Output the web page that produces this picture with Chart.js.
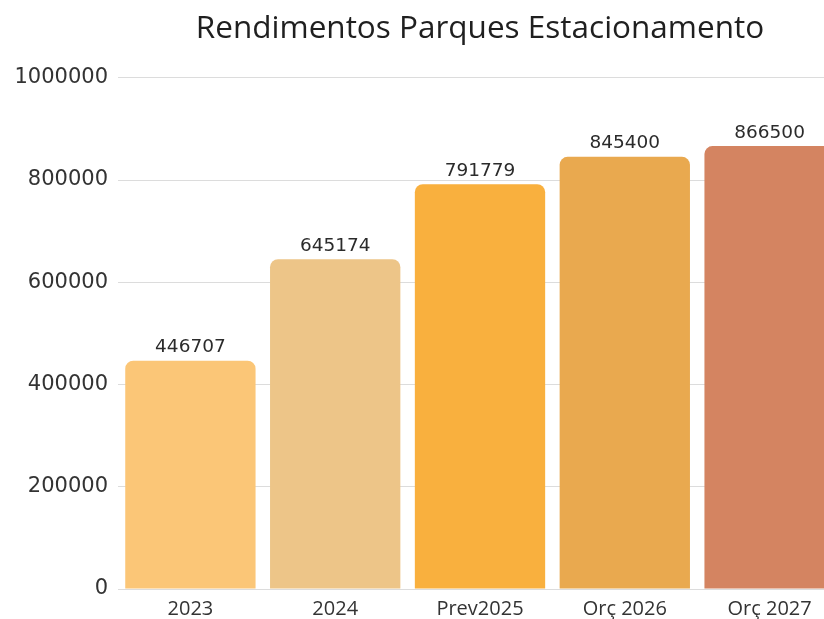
<!DOCTYPE html>
<html>
<head>
<meta charset="utf-8">
<script src="https://cdn.jsdelivr.net/npm/chart.js@4"></script>
<style>
  html, body { margin: 0; padding: 0; background: #fff; overflow: hidden; }
  #wrap { width: 842px; height: 619px; position: relative; }
</style>
</head>
<body>
<div id="wrap"><canvas id="chart"></canvas></div>
<script>
const categories = ['2023', '2024', 'Prev2025', 'Orç 2026', 'Orç 2027'];
const rendimentos = [446707, 645174, 791779, 845400, 866500];
const barColors = ['#fbc677', '#edc588', '#f9b03e', '#e9a94f', '#d48461'];
const yTicks = [0, 200000, 400000, 600000, 800000, 1000000];

// values above each bar
const valueLabels = {
    id: 'valueLabels',
    afterDatasetsDraw(chart) {
        const ctx = chart.ctx;
        const meta = chart.getDatasetMeta(0);
        ctx.save();
        ctx.font = '18.5px "DejaVu Sans"';
        ctx.fillStyle = '#2b2b2b';
        ctx.textAlign = 'center';
        ctx.textBaseline = 'bottom';
        meta.data.forEach((bar, i) => {
            ctx.fillText(String(rendimentos[i]), bar.x, bar.y - 4);
        });
        ctx.restore();
    }
};

new Chart('chart', {
    type: 'bar',
    data: {
        labels: categories,
        datasets: [{
            data: rendimentos,
            backgroundColor: barColors,
            borderRadius: 8,
            categoryPercentage: 1,
            barPercentage: 0.9
        }]
    },
    options: {
        responsive: true,
        maintainAspectRatio: false,
        animation: false,
        layout: { padding: 0 },
        plugins: {
            legend: { display: false },
            tooltip: { enabled: false },
            title: {
                display: true,
                fullSize: false,
                text: 'Rendimentos Parques Estacionamento',
                color: '#1f1f1f',
                font: { family: 'Open Sans', size: 31.5, weight: 'normal' },
                padding: { top: 10, bottom: 30 }
            }
        },
        scales: {
            x: {
                afterFit: s => { s.height = 30; },
                grid: { display: false },
                border: { display: false },
                ticks: {
                    color: '#333',
                    font: { family: 'Open Sans', size: 20 },
                    padding: 0,
                    maxRotation: 0
                }
            },
            y: {
                min: 0,
                max: 1000000,
                afterBuildTicks: s => { s.ticks = yTicks.map(v => ({ value: v })); },
                afterFit: s => { s.width = 118; },
                grid: { color: '#dcdcdc', lineWidth: 1, drawTicks: false },
                border: { display: false },
                ticks: {
                    color: '#333',
                    font: { family: 'DejaVu Sans', size: 21 },
                    padding: 10,
                    callback: v => String(v)
                }
            }
        }
    },
    plugins: [valueLabels]
});
</script>
</body>
</html>
